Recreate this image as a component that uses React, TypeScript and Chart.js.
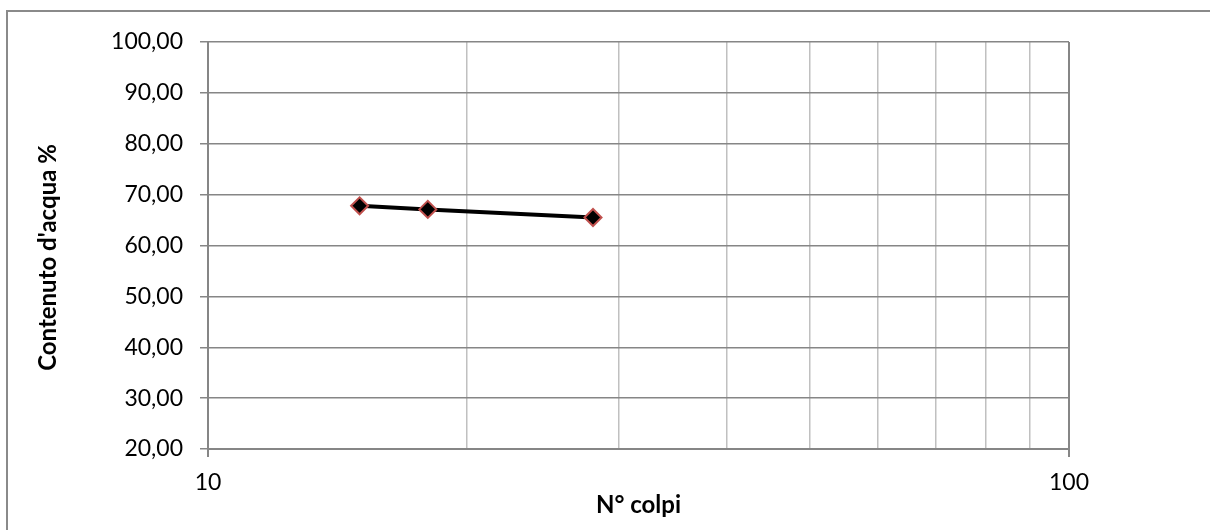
import React, { useEffect, useRef } from "react";
import { Chart, registerables } from "chart.js";

Chart.register(...registerables);

const colpi = [15, 18, 28];
const contenuto = [67.8, 67.1, 65.5];
const xTickValues = [10, 20, 30, 40, 50, 60, 70, 80, 90, 100];
const xLabelsShown = [10, 100];
const xTitle = "N° colpi";
const yTitle = "Contenuto d'acqua %";

const yTitlePlugin = {
  id: "yTitlePlugin",
  afterDraw(chart: any) {
    const { ctx, chartArea } = chart;
    ctx.save();
    ctx.font = "bold 24px Lato";
    ctx.fillStyle = "#000000";
    ctx.textAlign = "center";
    ctx.textBaseline = "middle";
    ctx.translate(48, (chartArea.top + chartArea.bottom) / 2 + 12);
    ctx.rotate(-Math.PI / 2);
    ctx.fillText(yTitle, 0, 0);
    ctx.restore();
  },
};

export default function App() {
  const ref = useRef<HTMLCanvasElement | null>(null);

  useEffect(() => {
    if (!ref.current) return;
    const chart = new Chart(ref.current, {
      type: "line",
      data: {
        datasets: [
          {
            data: colpi.map((x, i) => ({ x, y: contenuto[i] })),
            borderColor: "#000000",
            borderWidth: 4,
            pointStyle: "rectRot",
            pointRadius: 8.5,
            pointBackgroundColor: "#000000",
            pointBorderColor: "#c0504d",
            pointBorderWidth: 2,
            tension: 0,
          },
        ],
      },
      plugins: [yTitlePlugin],
      options: {
        animation: false,
        responsive: false,
        devicePixelRatio: 1,
        layout: { padding: { left: 0, right: 141, top: 42, bottom: 0 } },
        plugins: { legend: { display: false }, tooltip: { enabled: false } },
        scales: {
          x: {
            type: "logarithmic",
            min: 10,
            max: 100,
            afterBuildTicks: (s: any) => {
              s.ticks = xTickValues.map((v) => ({ value: v }));
            },
            afterFit: (s: any) => {
              s.height = 81;
            },
            border: { color: "#868686", width: 2 },
            grid: {
              color: (c: any) =>
                c.tick && xLabelsShown.includes(c.tick.value) ? "#868686" : "#c0c0c0",
              lineWidth: (c: any) =>
                c.tick && xLabelsShown.includes(c.tick.value) ? 2 : 1.5,
              tickLength: 8,
              tickColor: (c: any) =>
                c.tick && xLabelsShown.includes(c.tick.value) ? "#868686" : "rgba(0,0,0,0)",
            },
            ticks: {
              autoSkip: false,
              maxRotation: 0,
              padding: 12,
              color: "#000000",
              font: { family: "Lato", size: 23 },
              callback: (v: any) => (xLabelsShown.includes(Number(v)) ? String(v) : ""),
            },
            title: {
              display: true,
              text: xTitle,
              color: "#000000",
              font: { family: "Lato", size: 24, weight: "bold" },
              padding: { top: 0, bottom: 10 },
            },
          },
          y: {
            min: 20,
            max: 100,
            afterFit: (s: any) => {
              s.width = 208;
            },
            border: { color: "#868686", width: 2 },
            grid: {
              color: "#868686",
              lineWidth: 1.5,
              tickLength: 8,
            },
            ticks: {
              stepSize: 10,
              padding: 17,
              color: "#000000",
              font: { family: "Lato", size: 23 },
              callback: (v: any) => Number(v).toFixed(2).replace(".", ","),
            },
            title: { display: false },
          },
        },
      },
    });
    return () => chart.destroy();
  }, []);

  return (
    <div style={{ position: "fixed", left: 0, top: 0, width: 1210, height: 530, background: "#fff", overflow: "hidden" }}>
      <div
        style={{
          position: "absolute",
          left: 6,
          top: 10,
          width: 1300,
          height: 700,
          border: "2px solid #8a8a8a",
          boxSizing: "border-box",
        }}
      />
      <canvas
        ref={ref}
        width={1210}
        height={530}
        style={{ position: "absolute", left: 0, top: 0, width: 1210, height: 530 }}
      />
    </div>
  );
}
